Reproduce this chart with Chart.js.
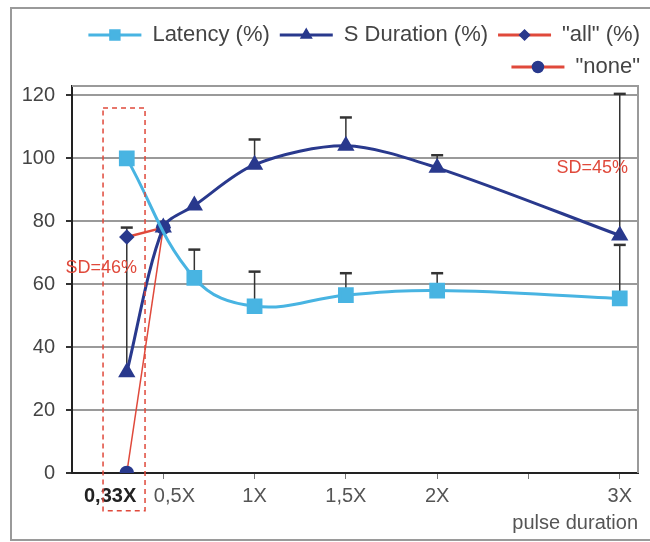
<!DOCTYPE html>
<html>
<head>
<meta charset="utf-8">
<title>Latency and S duration vs pulse duration</title>
<script src="https://cdn.jsdelivr.net/npm/chart.js@4.4.1/dist/chart.umd.min.js"></script>
<style>
  html, body { margin: 0; padding: 0; background: #fff; }
  #wrap { width: 650px; height: 542px; }
</style>
</head>
<body>
<div id="wrap"><canvas id="pulseChart" width="650" height="542"></canvas></div>
<script>
// pulse duration (multiples of X) and the measured values (%)
const latencyX = [0.3, 0.67, 1, 1.5, 2, 3];
const latencyY = [100, 62, 53, 56.5, 58, 55.5];
const latencyErr = [0, 9, 11, 7, 5.5, 17];

const durationX = [0.3, 0.5, 0.67, 1, 1.5, 2, 3];
const durationY = [32, 78, 85, 98, 104, 97, 75.5];
const durationErr = [46, 0, 0, 8, 9, 4, 45];

const allX = [0.3, 0.5];
const allY = [75, 78];
const noneX = [0.3, 0.5];
const noneY = [0, 78];

const xTicks = [0.3, 0.5, 1, 1.5, 2, 2.5, 3];
const xTickLabels = ['0,33X', '0,5X', '1X', '1,5X', '2X', '', '3X'];
const yTicks = [0, 20, 40, 60, 80, 100, 120];

// SD notes, placed in data units
const sdNotes = [
  { text: 'SD=46%', x: 0.16, y: 65 },
  { text: 'SD=45%', x: 2.85, y: 97 }
];

const CYAN = '#48b4e2';
const NAVY = '#29398d';
const RED = '#e0493b';

Chart.defaults.font.family = '"Liberation Sans", Arial, sans-serif';

const toPoints = (xs, ys) => xs.map((x, i) => ({ x: x, y: ys[i] }));

// force the legend to take a fixed height so the plot starts where it should
const legendHeight = {
  id: 'legendHeight',
  beforeInit(chart) {
    const fit = chart.legend.fit;
    chart.legend.fit = function () {
      fit.call(this);
      this.height = 72;
    };
  }
};

// upward error bars, drawn under the markers
const errorBars = {
  id: 'errorBars',
  beforeDatasetsDraw(chart) {
    const { ctx, scales: { x, y } } = chart;
    ctx.save();
    ctx.strokeStyle = '#333';
    [[latencyX, latencyY, latencyErr], [durationX, durationY, durationErr]].forEach(([xs, ys, es]) => {
      xs.forEach((v, i) => {
        if (!es[i]) return;
        const px = x.getPixelForValue(v);
        const y0 = y.getPixelForValue(ys[i]);
        const y1 = y.getPixelForValue(ys[i] + es[i]);
        ctx.lineWidth = 1.5;
        ctx.beginPath();
        ctx.moveTo(px, y0);
        ctx.lineTo(px, y1);
        ctx.stroke();
        ctx.lineWidth = 2.5;
        ctx.beginPath();
        ctx.moveTo(px - 6, y1);
        ctx.lineTo(px + 6, y1);
        ctx.stroke();
      });
    });
    // top and right edges of the plot box
    const a = chart.chartArea;
    ctx.strokeStyle = '#9a9a9a';
    ctx.lineWidth = 2;
    ctx.beginPath();
    ctx.moveTo(a.left, a.top);
    ctx.lineTo(a.right, a.top);
    ctx.lineTo(a.right, a.bottom);
    ctx.stroke();
    ctx.restore();
  }
};

// dashed box, SD notes, legend markers and the outer frame
const extras = {
  id: 'extras',
  afterDraw(chart) {
    const { ctx, scales: { x, y } } = chart;
    ctx.save();

    ctx.strokeStyle = RED;
    ctx.lineWidth = 1.5;
    ctx.setLineDash([5, 4]);
    const bx0 = x.getPixelForValue(0.17), bx1 = x.getPixelForValue(0.4);
    const by0 = y.getPixelForValue(116), by1 = y.getPixelForValue(-12);
    ctx.strokeRect(bx0, by0, bx1 - bx0, by1 - by0);
    ctx.setLineDash([]);

    ctx.fillStyle = RED;
    ctx.font = '18px "Liberation Sans", Arial, sans-serif';
    ctx.textAlign = 'center';
    ctx.textBaseline = 'middle';
    sdNotes.forEach(n => ctx.fillText(n.text, x.getPixelForValue(n.x), y.getPixelForValue(n.y)));

    const boxW = chart.options.plugins.legend.labels.boxWidth;
    const fontSize = chart.options.plugins.legend.labels.font.size;
    chart.legend.legendHitBoxes.forEach((hb, i) => {
      const ds = chart.data.datasets[i];
      ctx.fillStyle = ds.pointBackgroundColor;
      ctx.strokeStyle = ds.pointBackgroundColor;
      Chart.helpers.drawPoint(ctx, {
        pointStyle: ds.pointStyle,
        radius: ds.legendRadius,
        rotation: 0,
        borderWidth: 1
      }, hb.left + boxW / 2, hb.top + fontSize / 2);
    });

    ctx.strokeStyle = '#9a9a9a';
    ctx.lineWidth = 2;
    ctx.strokeRect(11, 8, 660, 532);
    ctx.restore();
  }
};

new Chart(document.getElementById('pulseChart'), {
  type: 'line',
  data: {
    datasets: [
      {
        label: 'Latency (%)',
        data: toPoints(latencyX, latencyY),
        borderColor: CYAN,
        backgroundColor: CYAN,
        pointBackgroundColor: CYAN,
        pointBorderColor: CYAN,
        borderWidth: 3,
        pointStyle: 'rect',
        pointRadius: 9,
        legendRadius: 7,
        tension: 0.4
      },
      {
        label: 'S Duration (%)',
        data: toPoints(durationX, durationY),
        borderColor: NAVY,
        backgroundColor: NAVY,
        pointBackgroundColor: NAVY,
        pointBorderColor: NAVY,
        borderWidth: 3,
        pointStyle: 'triangle',
        pointRadius: 7,
        legendRadius: 6,
        tension: 0.3
      },
      {
        label: '"all" (%)',
        data: toPoints(allX, allY),
        borderColor: RED,
        backgroundColor: RED,
        pointBackgroundColor: NAVY,
        pointBorderColor: NAVY,
        borderWidth: 2.5,
        pointStyle: 'rectRot',
        pointRadius: 6,
        legendRadius: 5
      },
      {
        label: '"none"',
        data: toPoints(noneX, noneY),
        borderColor: RED,
        backgroundColor: RED,
        pointBackgroundColor: NAVY,
        pointBorderColor: NAVY,
        borderWidth: 1.5,
        pointStyle: 'circle',
        pointRadius: 6.5,
        legendRadius: 5.5
      }
    ]
  },
  options: {
    responsive: false,
    animation: false,
    layout: { padding: { top: 14, left: 0, right: 0, bottom: 0 } },
    plugins: {
      tooltip: { enabled: false },
      legend: {
        position: 'top',
        align: 'end',
        labels: {
          boxWidth: 53,
          boxHeight: 3,
          padding: 10,
          color: '#444',
          font: { size: 22 },
          generateLabels: chart => chart.data.datasets.map((ds, i) => ({
            text: ds.label,
            fillStyle: ds.borderColor,
            strokeStyle: ds.borderColor,
            lineWidth: 0,
            hidden: false,
            datasetIndex: i,
            fontColor: '#444'
          }))
        }
      }
    },
    scales: {
      x: {
        type: 'linear',
        min: 0,
        max: 3.1,
        afterBuildTicks: scale => { scale.ticks = xTicks.map(v => ({ value: v })); },
        afterFit: scale => { scale.height = 69; },
        grid: {
          drawOnChartArea: false,
          tickLength: 6,
          tickColor: ctx => (ctx.index === 0 ? 'rgba(0,0,0,0)' : '#777')
        },
        border: { color: '#222', width: 2 },
        ticks: {
          autoSkip: false,
          maxRotation: 0,
          padding: 5,
          font: ctx => ({ size: 20, weight: ctx.index === 0 ? 'bold' : 'normal' }),
          color: ctx => (ctx.index === 0 ? '#222' : '#555'),
          // nudge the first two labels the way the original sets them
          callback: (value, index) => {
            if (index === 0) return xTickLabels[0] + '      ';
            if (index === 1) return '    ' + xTickLabels[1];
            return xTickLabels[index];
          }
        },
        title: {
          display: true,
          text: 'pulse duration',
          align: 'end',
          color: '#555',
          font: { size: 20 },
          padding: { top: 0, bottom: 7 }
        }
      },
      y: {
        min: 0,
        max: 123,
        afterBuildTicks: scale => { scale.ticks = yTicks.map(v => ({ value: v })); },
        afterFit: scale => { scale.width = 72; },
        grid: {
          color: ctx => (ctx.tick && ctx.tick.value === 0 ? 'rgba(0,0,0,0)' : '#9a9a9a'),
          lineWidth: 2,
          tickLength: 6,
          tickColor: '#333'
        },
        border: { color: '#222', width: 2 },
        ticks: { padding: 11, color: '#444', font: { size: 20 } }
      },
      // empty right-hand axis, only keeps the plot box off the right edge
      yRight: {
        position: 'right',
        display: true,
        afterFit: scale => { scale.width = 11; },
        grid: { display: false },
        border: { display: false },
        ticks: { display: false }
      }
    }
  },
  plugins: [legendHeight, errorBars, extras]
});
</script>
</body>
</html>
